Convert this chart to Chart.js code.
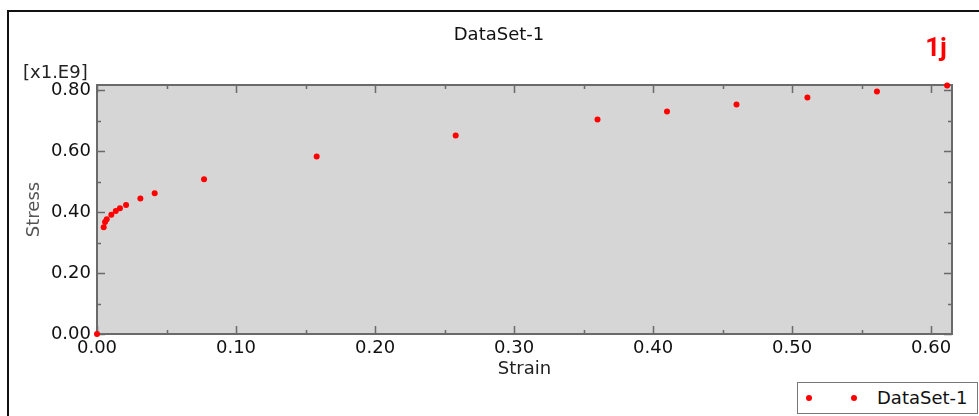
<!DOCTYPE html>
<html>
<head>
<meta charset="utf-8">
<script src="https://cdn.jsdelivr.net/npm/chart.js@4/dist/chart.umd.min.js"></script>
<style>
  html, body { margin:0; padding:0; background:#fff; }
  body { width:979px; height:416px; position:relative; overflow:hidden; font-family:"DejaVu Sans", Verdana, sans-serif; }
  #chart { position:absolute; left:0; top:0; }
  .frame { position:absolute; left:7px; top:10px; right:-4px; bottom:-4px; border-left:2px solid #111; border-top:2px solid #111; }
  .title { position:absolute; left:399px; width:200px; top:23px; text-align:center; font-size:18px; color:#111; }
  .tag { position:absolute; left:916px; width:40px; top:32px; text-align:center; font:bold 26px Roboto, sans-serif; color:#f00; }
  .mult { position:absolute; left:23px; top:61px; font-size:18px; color:#222; }
  .legend { position:absolute; left:797px; top:382px; width:179px; height:30px; border:1px solid #777; background:#fff; }
  .legend .dot { position:absolute; top:12px; width:6px; height:6px; border-radius:50%; background:#f00; }
  .legend .lbl { position:absolute; left:79px; top:4px; font-size:18px; color:#111; white-space:nowrap; }
</style>
</head>
<body>
<div class="frame"></div>
<canvas id="chart" width="979" height="416"></canvas>
<div class="title">DataSet-1</div>
<div class="tag">1j</div>
<div class="mult">[x1.E9]</div>
<div class="legend">
  <span class="dot" style="left:8px"></span>
  <span class="dot" style="left:53px"></span>
  <span class="lbl">DataSet-1</span>
</div>
<script>
// valores (tensão em x1.E9)
const strain = [0.0, 0.0048, 0.0058, 0.0070, 0.0103, 0.0135, 0.0165, 0.0209, 0.0312, 0.0415,
                0.077, 0.158, 0.258, 0.360, 0.410, 0.460, 0.511, 0.561, 0.6115];
const stress = [0.0, 0.351, 0.368, 0.377, 0.392, 0.404, 0.413, 0.424, 0.445, 0.462,
                0.508, 0.583, 0.652, 0.705, 0.731, 0.754, 0.777, 0.797, 0.816];

const xMajor = [0, 0.1, 0.2, 0.3, 0.4, 0.5, 0.6];
const xMinor = [0.05, 0.15, 0.25, 0.35, 0.45, 0.55];
const yMajor = [0, 0.2, 0.4, 0.6, 0.8];
const yMinor = [0.1, 0.3, 0.5, 0.7];

const AXIS_COLOR = '#6a6a6a';

// fundo cinza + moldura com ticks para dentro (estilo Abaqus)
const framePlugin = {
  id: 'frame',
  beforeDatasetsDraw(chart) {
    const { ctx, chartArea: a, scales: { x, y } } = chart;
    ctx.save();
    ctx.fillStyle = '#d6d6d6';
    ctx.fillRect(a.left, a.top, a.right - a.left, a.bottom - a.top);
    ctx.strokeStyle = AXIS_COLOR;
    ctx.lineWidth = 2;
    ctx.strokeRect(a.left, a.top, a.right - a.left, a.bottom - a.top);

    ctx.lineWidth = 1.5;
    ctx.beginPath();
    const tickX = (vals, len) => vals.forEach(v => {
      const px = Math.round(x.getPixelForValue(v)) + 0.5;
      ctx.moveTo(px, a.bottom); ctx.lineTo(px, a.bottom - len);
      ctx.moveTo(px, a.top);    ctx.lineTo(px, a.top + len);
    });
    const tickY = (vals, len) => vals.forEach(v => {
      const py = Math.round(y.getPixelForValue(v)) + 0.5;
      ctx.moveTo(a.left, py);  ctx.lineTo(a.left + len, py);
      ctx.moveTo(a.right, py); ctx.lineTo(a.right - len, py);
    });
    tickX(xMajor, 8); tickX(xMinor, 4);
    tickY(yMajor, 8); tickY(yMinor, 4);
    ctx.stroke();
    ctx.restore();
  }
};

const font = { family: '"DejaVu Sans", Verdana, sans-serif', size: 18 };

new Chart(document.getElementById('chart'), {
  type: 'scatter',
  data: {
    datasets: [{
      label: 'DataSet-1',
      data: strain.map((s, i) => ({ x: s, y: stress[i] })),
      pointRadius: 3,
      pointBorderWidth: 0,
      backgroundColor: '#ff0000',
      borderColor: '#ff0000',
      clip: false,
    }]
  },
  options: {
    responsive: false,
    animation: false,
    layout: { padding: { left: 24, top: 85, right: 27, bottom: 36 } },
    plugins: { legend: { display: false }, tooltip: { enabled: false } },
    scales: {
      x: {
        type: 'linear', min: 0, max: 0.615,
        grid: { display: false, drawTicks: false },
        border: { display: false },
        ticks: { stepSize: 0.1, includeBounds: false, padding: 4, color: '#111', font,
                 maxRotation: 0, autoSkip: false, callback: v => v.toFixed(2) },
        title: { display: true, text: 'Strain', color: '#222', font, padding: 0 },
        afterFit: s => { s.height = 46; },
      },
      y: {
        type: 'linear', min: 0, max: 0.818,
        grid: { display: false, drawTicks: false },
        border: { display: false },
        ticks: { stepSize: 0.2, includeBounds: false, padding: 6, color: '#111', font,
                 autoSkip: false, callback: v => v.toFixed(2) },
        title: { display: true, text: 'Stress', color: '#555', font, padding: 0 },
        afterFit: s => { s.width = 73; },
      }
    }
  },
  plugins: [framePlugin]
});
</script>
</body>
</html>
